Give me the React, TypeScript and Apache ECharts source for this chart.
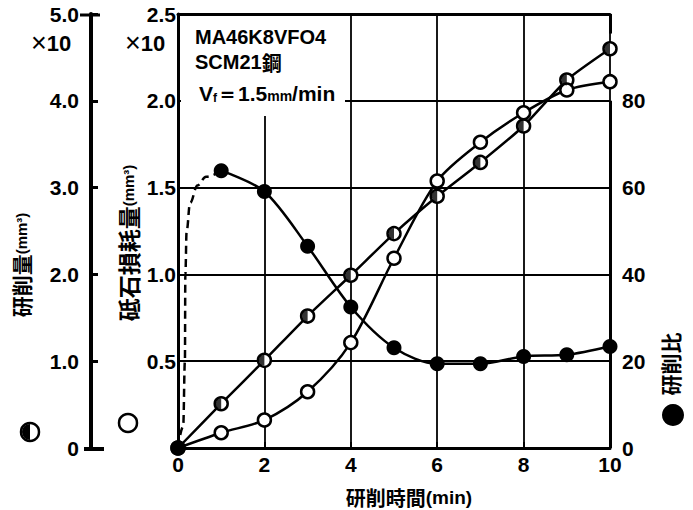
import React, { useEffect, useRef } from "react";
import * as echarts from "echarts";

// 研削時間 (min)
const timeMin = [0, 1, 2, 3, 4, 5, 6, 7, 8, 9, 10];
// 研削量 (×10 mm³) – half-filled markers, outer left axis
const grindVolume = [0, 0.51, 1.01, 1.52, 1.99, 2.47, 2.9, 3.29, 3.71, 4.24, 4.6];
// 砥石損耗量 (×10 mm³) – open markers, inner left axis
const wheelWear = [0, 0.088, 0.161, 0.324, 0.607, 1.093, 1.538, 1.761, 1.931, 2.062, 2.11];
// 研削比 – filled markers, right axis
const ratioTime = [1, 2, 3, 4, 5, 6, 7, 8, 9, 10];
const grindRatio = [63.9, 59.1, 46.5, 32.5, 23.1, 19.4, 19.4, 21.1, 21.5, 23.4];
// initial dashed part of 研削比 curve
const dashTime = [0, 0.12, 0.16, 0.17, 0.2, 0.28, 0.45, 0.65, 1];
const dashRatio = [0, 5, 20, 40, 50, 56.5, 60.5, 62.5, 63.9];

const outerTicks = [0, 1, 2, 3, 4, 5];
const innerTicks = [0, 0.5, 1, 1.5, 2, 2.5];
const rightTicks = [0, 20, 40, 60, 80];

const NUM_FONT = "'Liberation Sans Narrow', 'Liberation Sans', sans-serif";
const JP_FONT = "'Noto Sans CJK JP', sans-serif";
const LAT_FONT = "'Liberation Sans', 'Noto Sans', sans-serif";

const rt = (size: number, family: string, weight: string = "bold", extra: any = {}) => ({
  fontSize: size,
  fontFamily: family,
  fontWeight: weight,
  fill: "#000",
  color: "#000",
  ...extra,
});

export default function App() {
  const ref = useRef<HTMLDivElement>(null);

  useEffect(() => {
    if (!ref.current) return;
    const chart = echarts.init(ref.current, null, { renderer: "svg" });
    const black = "#000";
    const tickLabel = {
      color: black,
      fontFamily: NUM_FONT,
      fontWeight: "bold" as const,
      fontSize: 21,
    };

    const option: any = {
      animation: false,
      backgroundColor: "#fff",
      grid: { left: 178, right: 83, top: 14, bottom: 62, containLabel: false },
      xAxis: [
        {
          type: "value",
          min: 0,
          max: 10,
          interval: 2,
          axisLine: { show: true, lineStyle: { color: black, width: 3 } },
          axisTick: { show: true, inside: true, length: 6, lineStyle: { color: black, width: 2 } },
          axisLabel: { ...tickLabel, margin: 6 },
          splitLine: { show: true, lineStyle: { color: black, width: 1.8 } },
        },
        {
          type: "value",
          position: "top",
          min: 0,
          max: 10,
          interval: 2,
          axisLine: { show: true, onZero: false, lineStyle: { color: black, width: 3 } },
          axisTick: { show: false },
          axisLabel: { show: false },
          splitLine: { show: false },
        },
      ],
      yAxis: [
        {
          // 砥石損耗量 inner left
          type: "value",
          position: "left",
          min: innerTicks[0],
          max: innerTicks[innerTicks.length - 1],
          interval: 0.5,
          axisLine: { show: true, onZero: false, lineStyle: { color: black, width: 3 } },
          axisTick: { show: false },
          axisLabel: {
            ...tickLabel,
            margin: 2,
            formatter: (v: number) => (v === 0 ? "" : v.toFixed(1)),
          },
          splitLine: { show: true, lineStyle: { color: black, width: 1.8 } },
        },
        {
          // 研削比 right
          type: "value",
          position: "right",
          min: 0,
          max: 100,
          interval: 20,
          axisLine: { show: false },
          axisTick: { show: false },
          axisLabel: {
            ...tickLabel,
            margin: 12,
            formatter: (v: number) => (rightTicks.indexOf(v) >= 0 ? String(v) : ""),
          },
          splitLine: { show: false },
        },
        {
          // 研削量 outer left
          type: "value",
          position: "left",
          offset: 87,
          min: outerTicks[0],
          max: outerTicks[outerTicks.length - 1],
          interval: 1,
          axisLine: { show: true, onZero: false, lineStyle: { color: black, width: 4 } },
          axisTick: { show: true, inside: true, length: 7, lineStyle: { color: black, width: 3 } },
          axisLabel: {
            ...tickLabel,
            margin: 12,
            formatter: (v: number) => (v === 0 ? "0" : v.toFixed(1)),
          },
          splitLine: { show: false },
        },
      ],
      series: [
        {
          name: "研削量",
          type: "line",
          xAxisIndex: 0,
          yAxisIndex: 2,
          data: timeMin.map((t, i) => [t, grindVolume[i]]),
          smooth: 0.2,
          symbol: "circle",
          symbolSize: 13,
          itemStyle: { color: "#fff", borderColor: black, borderWidth: 2.5 },
          lineStyle: { color: black, width: 2.5 },
          z: 3,
        },
        {
          name: "研削量-half",
          type: "scatter",
          xAxisIndex: 0,
          yAxisIndex: 2,
          data: timeMin.map((t, i) => [t, grindVolume[i]]),
          symbol: "path://M10,0 A10,10 0 0,0 10,20 Z",
          symbolSize: [5.5, 11],
          symbolOffset: [-2.75, 0],
          itemStyle: { color: black },
          z: 4,
        },
        {
          name: "砥石損耗量",
          type: "line",
          xAxisIndex: 0,
          yAxisIndex: 0,
          data: timeMin.map((t, i) => [t, wheelWear[i]]),
          smooth: 0.3,
          symbol: "circle",
          symbolSize: 13,
          itemStyle: { color: "#fff", borderColor: black, borderWidth: 2.5 },
          lineStyle: { color: black, width: 2.5 },
          z: 3,
        },
        {
          name: "研削比-dash",
          type: "line",
          xAxisIndex: 0,
          yAxisIndex: 1,
          data: dashTime.map((t, i) =>
            i === 0
              ? { value: [t, dashRatio[i]], symbol: "circle", symbolSize: 13 }
              : { value: [t, dashRatio[i]], symbol: "none" }
          ),
          smooth: 0.4,
          smoothMonotone: "x",
          showSymbol: true,
          symbol: "none",
          itemStyle: { color: black },
          lineStyle: { color: black, width: 2.5, type: [8, 5] },
          z: 3,
        },
        {
          name: "研削比",
          type: "line",
          xAxisIndex: 0,
          yAxisIndex: 1,
          data: ratioTime.map((t, i) => [t, grindRatio[i]]),
          smooth: 0.3,
          symbol: "circle",
          symbolSize: 15,
          itemStyle: { color: black },
          lineStyle: { color: black, width: 2.5 },
          z: 3,
          markLine: {
            silent: true,
            symbol: ["none", "none"],
            label: { show: false },
            lineStyle: { color: black, width: 3, type: "solid" },
            data: [
              [{ coord: [10, 0] }, { coord: [10, rightTicks[rightTicks.length - 1]] }],
              [{ coord: [10, 100] }, { coord: [10, 95.5] }],
            ],
          },
        },
      ],
      graphic: [
        // white area behind annotation text
        { type: "rect", z: 1, shape: { x: 181, y: 16, width: 164, height: 100 }, style: { fill: "#fff" } },
        {
          type: "text",
          z: 5,
          x: 195,
          y: 37,
          style: { text: "MA46K8VFO4", ...rt(20, LAT_FONT), verticalAlign: "middle" },
        },
        {
          type: "text",
          z: 5,
          x: 195,
          y: 62,
          style: {
            text: "{a|SCM21}{b|鋼}",
            verticalAlign: "middle",
            rich: { a: rt(20, LAT_FONT), b: rt(20, JP_FONT) },
          },
        },
        {
          type: "text",
          z: 5,
          x: 199,
          y: 93,
          style: {
            text: "{v|V}{s|f}{t|＝1.5}{m|mm}{t|/min}",
            verticalAlign: "middle",
            rich: {
              v: rt(21, LAT_FONT),
              s: rt(12, LAT_FONT, "bold", { padding: [10, 0, 0, 0] }),
              t: rt(21, LAT_FONT),
              m: rt(14, LAT_FONT, "bold", { padding: [5, 0, 0, 0] }),
            },
          },
        },
        // ×10 multipliers
        {
          type: "text",
          z: 5,
          x: 31,
          y: 43,
          style: {
            text: "{x|×}{n|10}",
            verticalAlign: "middle",
            rich: { x: rt(27, LAT_FONT, "normal"), n: rt(22, NUM_FONT) },
          },
        },
        {
          type: "text",
          z: 5,
          x: 125,
          y: 43,
          style: {
            text: "{x|×}{n|10}",
            verticalAlign: "middle",
            rich: { x: rt(27, LAT_FONT, "normal"), n: rt(22, NUM_FONT) },
          },
        },
        // outer axis end caps
        { type: "line", z: 5, shape: { x1: 80, y1: 15, x2: 100, y2: 15 }, style: { stroke: black, lineWidth: 3 } },
        { type: "line", z: 5, shape: { x1: 84, y1: 449, x2: 104, y2: 449 }, style: { stroke: black, lineWidth: 4 } },
        // axis titles
        {
          type: "text",
          z: 5,
          x: 21,
          y: 265,
          rotation: Math.PI / 2,
          style: {
            text: "{a|研削量}{b|(mm³)}",
            align: "center",
            verticalAlign: "middle",
            rich: { a: rt(21, JP_FONT), b: rt(15, LAT_FONT) },
          },
        },
        {
          type: "text",
          z: 5,
          x: 128,
          y: 243,
          rotation: Math.PI / 2,
          style: {
            text: "{a|砥石損耗量}{b|(mm³)}",
            align: "center",
            verticalAlign: "middle",
            rich: { a: rt(23, JP_FONT), b: rt(15, LAT_FONT) },
          },
        },
        {
          type: "text",
          z: 5,
          x: 670,
          y: 364,
          rotation: Math.PI / 2,
          style: {
            text: "研削比",
            ...rt(21, JP_FONT),
            align: "center",
            verticalAlign: "middle",
          },
        },
        {
          type: "text",
          z: 5,
          x: 409,
          y: 497,
          style: {
            text: "{a|研削時間}{b|(min)}",
            align: "center",
            verticalAlign: "middle",
            rich: { a: rt(20, JP_FONT), b: rt(19, LAT_FONT) },
          },
        },
        // legend symbols
        { type: "circle", z: 5, shape: { cx: 30, cy: 432, r: 9 }, style: { fill: "#fff", stroke: black, lineWidth: 2.5 } },
        {
          type: "sector",
          z: 6,
          shape: { cx: 30, cy: 432, r0: 0, r: 8, startAngle: Math.PI / 2, endAngle: (3 * Math.PI) / 2, clockwise: true },
          style: { fill: black },
        },
        { type: "circle", z: 5, shape: { cx: 128, cy: 423, r: 9 }, style: { fill: "#fff", stroke: black, lineWidth: 2.5 } },
        { type: "circle", z: 5, shape: { cx: 673, cy: 415, r: 11 }, style: { fill: black } },
      ],
    };

    chart.setOption(option);
    return () => chart.dispose();
  }, []);

  return (
    <div
      ref={ref}
      style={{ position: "fixed", left: 0, top: 0, width: 693, height: 510, background: "#fff" }}
    />
  );
}
